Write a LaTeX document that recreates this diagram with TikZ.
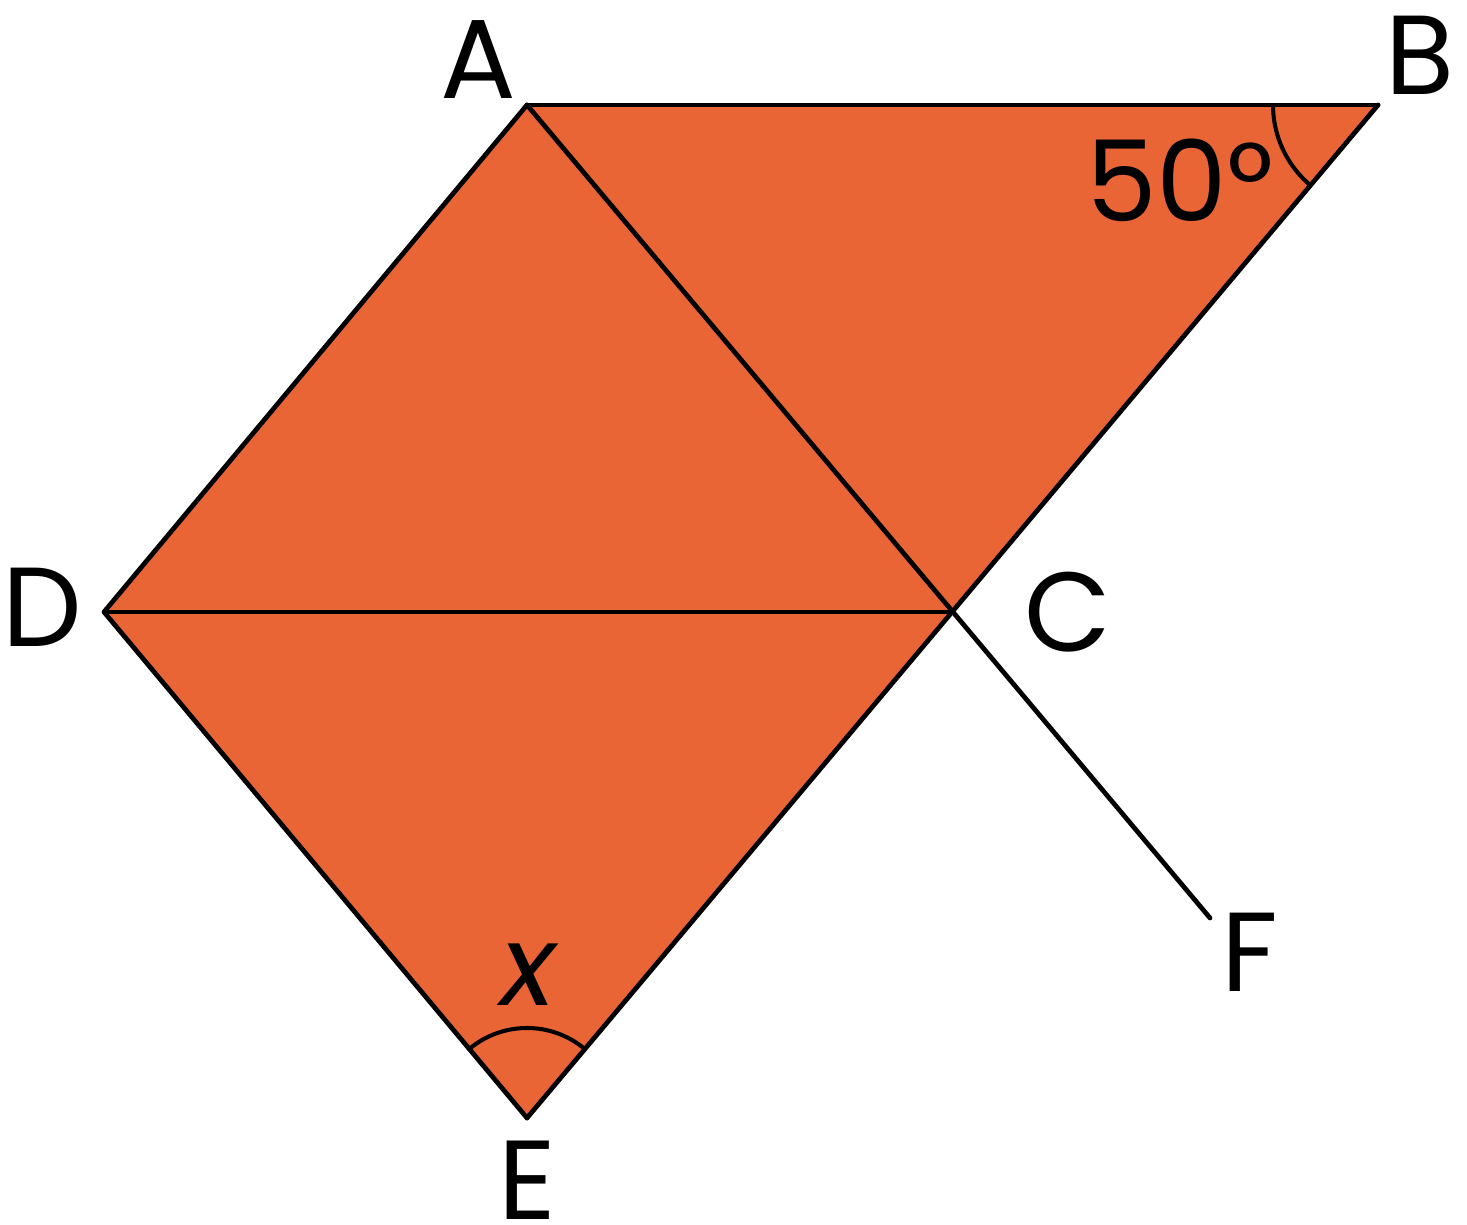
\documentclass[tikz,border=0pt]{standalone}
\usepackage{fontspec}
\setmainfont{Poppins}
\usetikzlibrary{positioning}
\definecolor{fg}{RGB}{0,0,0}
\definecolor{fillc}{RGB}{234,101,54}
\tikzset{
  every picture/.style={fg, line width=1.35pt, line cap=round, line join=round},
  every node/.style={font=\fontsize{32}{36}\selectfont},
  % Linien
  edge/.style={line width=1.35pt},
  arcl/.style={line width=1.15pt},
  % Beschriftung
  lbl/.style={inner sep=0pt},
}
\begin{document}
\begin{tikzpicture}
  \useasboundingbox (0,0) rectangle (14.67,12.25);
  % Eckpunkte
  \coordinate (A) at (5.27,11.20);
  \coordinate (B) at (13.78,11.20);
  \coordinate (C) at (9.51,6.13);
  \coordinate (D) at (1.04,6.13);
  \coordinate (E) at (5.27,1.07);
  \coordinate (F) at (12.10,3.07);
  % Fläche
  \fill[fillc] (A) -- (B) -- (E) -- (D) -- cycle;
  % Strecken
  \draw[edge] (A) -- (B);
  \draw[edge] (B) -- (E);
  \draw[edge] (A) -- (D) -- (E);
  \draw[edge] (D) -- (C);
  \draw[edge] (A) -- (F);
  % Winkel
  \draw[arcl] ([shift={(180:1.05)}]B) arc[start angle=180, end angle=230, radius=1.05];
  \draw[arcl] ([shift={(50:0.9)}]E) arc[start angle=50, end angle=130, radius=0.9];
  % Beschriftungen
  \node[lbl] (lA) at (4.78,11.65) {A};
  \node[lbl] (lB) at (14.20,11.70) {B};
  \node[lbl] (lC) at (10.68,6.13) {C};
  \node[lbl] (lD) at (0.42,6.18) {D};
  \node[lbl] (lE) at (5.27,0.45) {E};
  \node[lbl] (lF) at (12.50,2.73) {F};
  \node[lbl] (lang) at (11.80,10.45) {50°};
  \node[lbl] (lx) at (5.30,2.50) {\textit{x}};
\end{tikzpicture}
\end{document}
